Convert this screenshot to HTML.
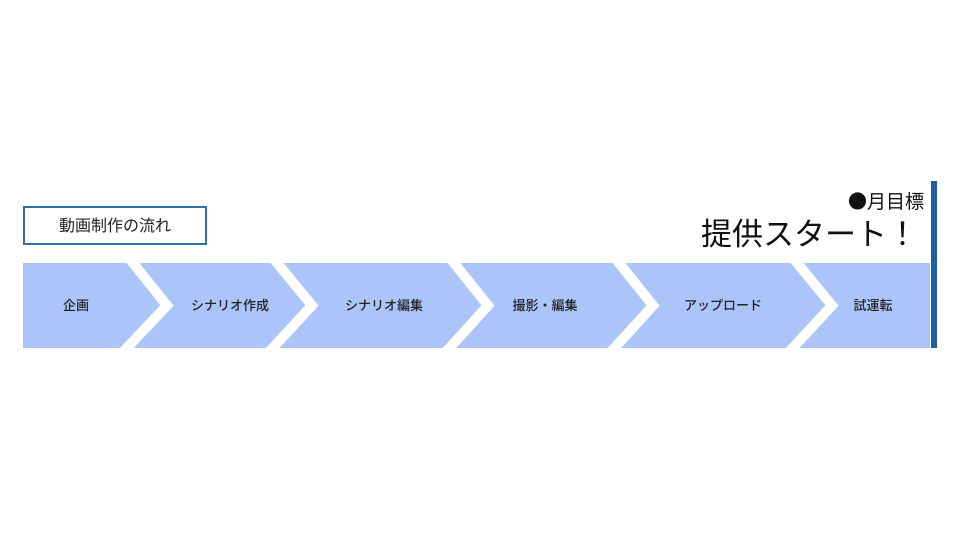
<!DOCTYPE html>
<html><head><meta charset="utf-8"><style>
body{margin:0;background:#fff;width:960px;height:540px;overflow:hidden;font-family:"Liberation Sans","Noto Sans CJK JP",sans-serif;}
</style></head><body>
<svg width="960" height="540" viewBox="0 0 960 540" xmlns="http://www.w3.org/2000/svg" style="position:absolute;left:0;top:0">
<rect x="23" y="263" width="907" height="85" fill="#abc5fb"/>
<g fill="none" stroke="#fff" stroke-width="10" stroke-linejoin="miter">
<polyline points="129,258 167,305.5 122,353"/>
<polyline points="273,258 312,305.5 268,353"/>
<polyline points="450,258 488,305.5 445,353"/>
<polyline points="615,258 653,305.5 610,353"/>
<polyline points="793,258 832,305.5 788,353"/>
</g>
<rect x="931" y="181" width="6" height="167" fill="#1f5fa6"/>
<rect x="24" y="207" width="182" height="37" fill="#fff" stroke="#2e6faa" stroke-width="2"/>
<g font-family="Liberation Sans, Noto Sans CJK JP, sans-serif" fill="#222" text-anchor="middle" font-size="13" font-weight="500">
<text x="115" y="231" font-size="16" font-weight="400">動画制作の流れ</text>
<text x="76" y="310">企画</text>
<text x="230" y="310">シナリオ作成</text>
<text x="384" y="310">シナリオ編集</text>
<text x="545" y="310">撮影・編集</text>
<text x="723" y="310">アップロード</text>
<text x="873" y="310">試運転</text>
</g>
<g font-family="Noto Sans CJK JP, sans-serif" fill="#111" text-anchor="end">
<text x="924" y="208" font-size="19">●月目標</text>
<text x="918" y="245" font-size="31">提供スタート！</text>
</g>
</svg>
</body></html>
